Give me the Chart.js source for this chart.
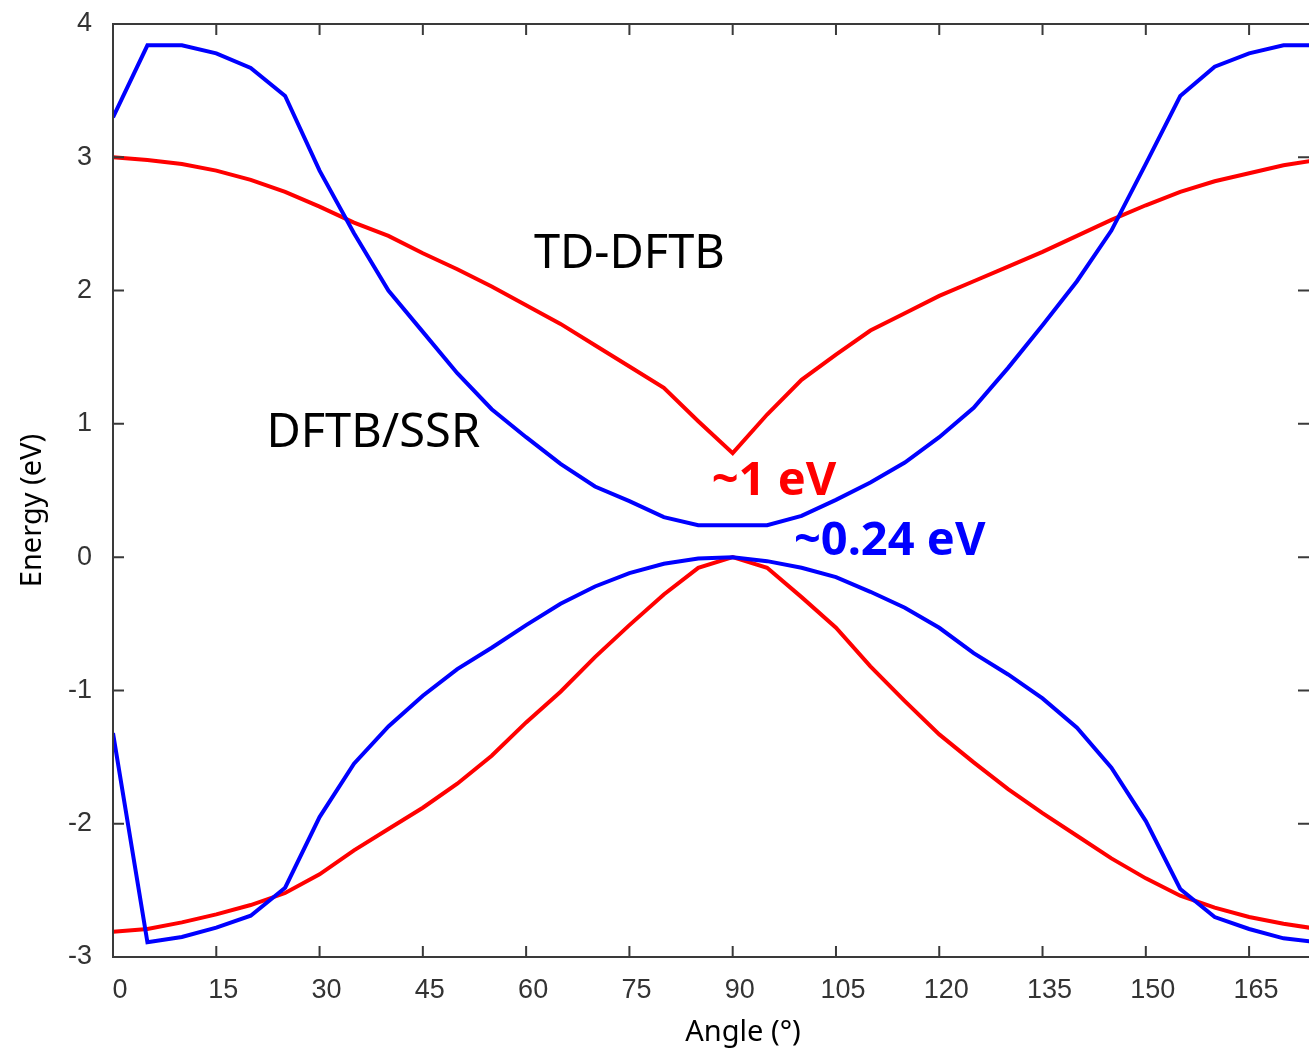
<!DOCTYPE html>
<html>
<head>
<meta charset="utf-8">
<script src="https://cdn.jsdelivr.net/npm/chart.js@4.4.1/dist/chart.umd.min.js"></script>
<style>
  html, body { margin: 0; padding: 0; background: #fff; }
  #wrap { width: 1309px; height: 1051px; position: relative; }
</style>
</head>
<body>
<div id="wrap"><canvas id="energyChart"></canvas></div>
<script>
// angle grid (degrees)
const angles = [0, 5, 10, 15, 20, 25, 30, 35, 40, 45, 50, 55, 60, 65, 70, 75, 80, 85,
                90, 95, 100, 105, 110, 115, 120, 125, 130, 135, 140, 145, 150, 155, 160, 165, 170, 175];

// DFTB/SSR (blue)
const ssrUpper = [3.30, 3.84, 3.84, 3.78, 3.67, 3.46, 2.90, 2.43, 2.00, 1.69, 1.38, 1.11, 0.90, 0.70, 0.53, 0.42, 0.30, 0.24,
                  0.24, 0.24, 0.31, 0.43, 0.56, 0.71, 0.90, 1.12, 1.42, 1.74, 2.07, 2.45, 2.95, 3.46, 3.68, 3.78, 3.84, 3.84];
const ssrLower = [-1.32, -2.89, -2.85, -2.78, -2.69, -2.48, -1.95, -1.55, -1.27, -1.04, -0.84, -0.68, -0.51, -0.35, -0.22, -0.12, -0.05, -0.01,
                  0.00, -0.03, -0.08, -0.15, -0.26, -0.38, -0.53, -0.72, -0.88, -1.06, -1.28, -1.58, -1.98, -2.49, -2.70, -2.79, -2.86, -2.89];

// TD-DFTB (red)
const tdUpper = [3.00, 2.98, 2.95, 2.90, 2.83, 2.74, 2.63, 2.51, 2.41, 2.28, 2.16, 2.03, 1.89, 1.75, 1.59, 1.43, 1.27, 1.02,
                 0.78, 1.07, 1.33, 1.52, 1.70, 1.83, 1.96, 2.07, 2.18, 2.29, 2.41, 2.53, 2.64, 2.74, 2.82, 2.88, 2.94, 2.98];
const tdLower = [-2.81, -2.79, -2.74, -2.68, -2.61, -2.52, -2.38, -2.20, -2.04, -1.88, -1.70, -1.49, -1.24, -1.01, -0.75, -0.51, -0.28, -0.08,
                 0.00, -0.08, -0.30, -0.53, -0.82, -1.08, -1.33, -1.54, -1.74, -1.92, -2.09, -2.26, -2.41, -2.54, -2.63, -2.70, -2.75, -2.79];

const xTickValues = [0, 15, 30, 45, 60, 75, 90, 105, 120, 135, 150, 165];
const yTickValues = [-3, -2, -1, 0, 1, 2, 3, 4];

const xTitle = 'Angle (°)';
const yTitle = 'Energy (eV)';
const labelTexts = ['TD-DFTB', 'DFTB/SSR', '~1 eV', '~0.24 eV'];

function toPoints(values) {
    return angles.map((a, i) => ({ x: a, y: values[i] }));
}

// text placement in data units (angle, energy of baseline)
const labelStyle = [
    { at: [75.0, 2.17], color: '#000', font: '47px "Noto Sans"' },
    { at: [37.8, 0.83], color: '#000', font: '47px "Noto Sans"' },
    { at: [96.0, 0.465], color: '#ff0000', font: 'bold 47px "Noto Sans"' },
    { at: [112.8, 0.015], color: '#0000ff', font: 'bold 47px "Noto Sans"' }
];

const frameTicks = {
    id: 'frameTicks',
    afterDatasetsDraw(chart) {
        const { ctx, chartArea: a, scales: { x, y } } = chart;
        const L = 11;
        ctx.save();
        ctx.strokeStyle = '#3a3a3a';
        ctx.lineWidth = 2;
        ctx.beginPath();
        ctx.moveTo(a.right + 2, a.top);
        ctx.lineTo(a.left, a.top);
        ctx.lineTo(a.left, a.bottom);
        ctx.lineTo(a.right + 2, a.bottom);
        x.ticks.forEach(t => {
            const px = x.getPixelForValue(t.value);
            ctx.moveTo(px, a.bottom); ctx.lineTo(px, a.bottom - L);
            ctx.moveTo(px, a.top); ctx.lineTo(px, a.top + L);
        });
        y.ticks.forEach(t => {
            const py = y.getPixelForValue(t.value);
            ctx.moveTo(a.left, py); ctx.lineTo(a.left + L, py);
            ctx.moveTo(a.right, py); ctx.lineTo(a.right - L, py);
        });
        ctx.stroke();

        // axis titles (the original plot was wider than this crop, so they sit off-centre)
        ctx.fillStyle = '#000';
        ctx.font = '29px "Noto Sans"';
        ctx.textAlign = 'center';
        ctx.textBaseline = 'middle';
        ctx.fillText(xTitle, x.getPixelForValue(91.5), 1033);
        ctx.save();
        ctx.translate(33, y.getPixelForValue(0.35));
        ctx.rotate(-Math.PI / 2);
        ctx.fillText(yTitle, 0, 0);
        ctx.restore();

        labelTexts.forEach((txt, i) => {
            const s = labelStyle[i];
            ctx.font = s.font;
            ctx.fillStyle = s.color;
            ctx.textAlign = 'center';
            ctx.textBaseline = 'alphabetic';
            ctx.fillText(txt, x.getPixelForValue(s.at[0]), y.getPixelForValue(s.at[1]));
        });
        ctx.restore();
    }
};

const lineStyle = { borderWidth: 4, pointRadius: 0, tension: 0, fill: false };

new Chart(document.getElementById('energyChart'), {
    type: 'line',
    data: {
        datasets: [
            { label: 'DFTB/SSR S1', data: toPoints(ssrUpper), borderColor: '#0000ff', ...lineStyle },
            { label: 'DFTB/SSR S0', data: toPoints(ssrLower), borderColor: '#0000ff', ...lineStyle },
            { label: 'TD-DFTB S1', data: toPoints(tdUpper), borderColor: '#ff0000', ...lineStyle },
            { label: 'TD-DFTB S0', data: toPoints(tdLower), borderColor: '#ff0000', ...lineStyle }
        ]
    },
    options: {
        responsive: true,
        maintainAspectRatio: false,
        animation: false,
        layout: { padding: { top: 24, right: 0, left: 0, bottom: 0 } },
        plugins: { legend: { display: false }, tooltip: { enabled: false } },
        scales: {
            x: {
                type: 'linear',
                min: 0,
                max: 173.7,
                grid: { display: false, drawTicks: false },
                border: { display: false },
                afterBuildTicks: s => { s.ticks = xTickValues.map(v => ({ value: v })); },
                afterFit: s => { s.height = 94; s.paddingLeft = 0; s.paddingRight = 0; },
                ticks: {
                    padding: 17,
                    labelOffset: 7,
                    maxRotation: 0,
                    autoSkip: false,
                    color: '#333',
                    font: { family: '"Liberation Sans"', size: 27 }
                }
            },
            y: {
                min: -3,
                max: 4,
                grid: { display: false, drawTicks: false },
                border: { display: false },
                afterBuildTicks: s => { s.ticks = yTickValues.map(v => ({ value: v })); },
                afterFit: s => { s.width = 113; s.paddingTop = 0; s.paddingBottom = 0; },
                ticks: {
                    padding: 21,
                    autoSkip: false,
                    color: '#333',
                    font: { family: '"Liberation Sans"', size: 27 }
                }
            }
        }
    },
    plugins: [frameTicks]
});
</script>
</body>
</html>
